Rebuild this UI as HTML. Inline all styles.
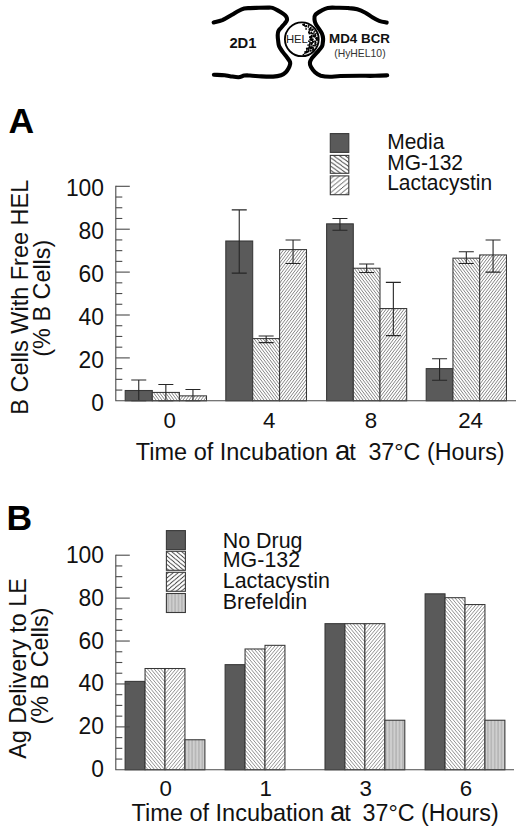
<!DOCTYPE html><html><head><meta charset="utf-8"><title>Figure</title>
<style>html,body{margin:0;padding:0;background:#fff;}body{width:520px;height:838px;overflow:hidden;}svg{display:block;font-family:"Liberation Sans",sans-serif;}text{font-family:"Liberation Sans",sans-serif;}</style>
</head><body>
<svg width="520" height="838" viewBox="0 0 520 838">
<defs>
<pattern id="hb" width="3" height="4" patternUnits="userSpaceOnUse"><rect width="3" height="4" fill="#fff"/><path d="M-6.000,-4 L0.000,4 M-3.000,-4 L3.000,4 M0.000,-4 L6.000,4 M3.000,-4 L9.000,4 M6.000,-4 L12.000,4" stroke="#5a5a5a" stroke-width="0.75" fill="none"/></pattern>
<pattern id="hf" width="3" height="4" patternUnits="userSpaceOnUse"><rect width="3" height="4" fill="#fff"/><path d="M-6.000,4 L0.000,-4 M-3.000,4 L3.000,-4 M0.000,4 L6.000,-4 M3.000,4 L9.000,-4 M6.000,4 L12.000,-4" stroke="#5a5a5a" stroke-width="0.75" fill="none"/></pattern>
<pattern id="hb2" width="10.0" height="4" patternUnits="userSpaceOnUse"><rect width="10.0" height="4" fill="#fff"/><path d="M-6.667,-4 L0.000,4 M-3.333,-4 L3.333,4 M0.000,-4 L6.667,4 M3.333,-4 L10.000,4 M6.667,-4 L13.333,4 M10.000,-4 L16.667,4 M13.333,-4 L20.000,4" stroke="#646464" stroke-width="0.72" fill="none"/></pattern>
<pattern id="hf2" width="10.0" height="4" patternUnits="userSpaceOnUse"><rect width="10.0" height="4" fill="#fff"/><path d="M-6.667,4 L0.000,-4 M-3.333,4 L3.333,-4 M0.000,4 L6.667,-4 M3.333,4 L10.000,-4 M6.667,4 L13.333,-4 M10.000,4 L16.667,-4 M13.333,4 L20.000,-4" stroke="#646464" stroke-width="0.72" fill="none"/></pattern>
<pattern id="lb" width="5.8" height="4.15" patternUnits="userSpaceOnUse"><rect width="5.8" height="4.15" fill="#fff"/><path d="M-11.600,-4.15 L0.000,4.15 M-5.800,-4.15 L5.800,4.15 M0.000,-4.15 L11.600,4.15 M5.800,-4.15 L17.400,4.15 M11.600,-4.15 L23.200,4.15" stroke="#3a3a3a" stroke-width="0.85" fill="none"/></pattern>
<pattern id="lf" width="5.7" height="4.7" patternUnits="userSpaceOnUse"><rect width="5.7" height="4.7" fill="#fff"/><path d="M-11.400,4.7 L0.000,-4.7 M-5.700,4.7 L5.700,-4.7 M0.000,4.7 L11.400,-4.7 M5.700,4.7 L17.100,-4.7 M11.400,4.7 L22.800,-4.7" stroke="#3a3a3a" stroke-width="0.85" fill="none"/></pattern>
<pattern id="lb2" width="5" height="4.2" patternUnits="userSpaceOnUse"><rect width="5" height="4.2" fill="#fff"/><path d="M-10.000,-4.2 L0.000,4.2 M-5.000,-4.2 L5.000,4.2 M0.000,-4.2 L10.000,4.2 M5.000,-4.2 L15.000,4.2 M10.000,-4.2 L20.000,4.2" stroke="#3a3a3a" stroke-width="0.85" fill="none"/></pattern>
<pattern id="lf2" width="5" height="4.2" patternUnits="userSpaceOnUse"><rect width="5" height="4.2" fill="#fff"/><path d="M-10.000,4.2 L0.000,-4.2 M-5.000,4.2 L5.000,-4.2 M0.000,4.2 L10.000,-4.2 M5.000,4.2 L15.000,-4.2 M10.000,4.2 L20.000,-4.2" stroke="#3a3a3a" stroke-width="0.85" fill="none"/></pattern>
<pattern id="bf" width="3.4" height="3" patternUnits="userSpaceOnUse"><rect width="3.4" height="3" fill="#cfcfcf"/><rect x="0.9" width="1.6" height="3" fill="#b6b6b6"/></pattern>
</defs>
<rect width="520" height="838" fill="#fff"/>
<g fill="none" stroke="#000" stroke-width="4.1" stroke-linecap="round" stroke-linejoin="round">
<path d="M213.7,22.5 C215.1,22.1 219.3,21.4 222.3,20.2 C225.3,18.9 228.8,16.5 231.5,15.0 C234.2,13.5 236.3,12.1 238.4,11.0 C240.5,9.9 242.3,9.0 244.2,8.5 C246.1,8.0 247.5,8.2 250.0,8.1 C252.5,8.0 256.0,7.9 259.0,7.8 C262.0,7.7 265.8,7.6 268.0,7.6 C270.2,7.6 270.9,7.4 272.5,7.9 C274.1,8.4 275.9,9.4 277.7,10.4 C279.5,11.4 282.0,12.9 283.4,13.9 C284.8,14.9 285.7,15.6 286.3,16.7 C286.9,17.8 287.2,19.0 286.9,20.2 C286.6,21.4 285.6,22.4 284.6,23.7 C283.6,24.9 282.1,26.5 281.1,27.7 C280.1,28.9 279.0,29.9 278.4,31.1 C277.8,32.4 277.7,33.6 277.7,35.2 C277.7,36.9 277.9,39.1 278.2,41.0 C278.4,42.9 278.4,44.5 279.2,46.4 C280.0,48.2 281.6,50.3 282.9,52.1 C284.2,53.9 285.8,55.8 286.9,57.3 C288.0,58.8 289.3,60.2 289.8,61.4 C290.3,62.5 290.3,63.1 290.1,64.2 C289.9,65.4 289.3,67.0 288.6,68.3 C287.9,69.6 287.1,71.1 285.8,72.3 C284.6,73.5 283.2,74.5 281.1,75.2 C279.0,75.9 276.4,76.4 273.1,76.6 C269.8,76.8 265.4,76.6 261.5,76.4 C257.6,76.2 252.9,75.6 250.0,75.5 C247.1,75.4 246.1,75.3 244.2,75.6 C242.3,75.9 240.9,77.2 238.5,77.3 C236.1,77.4 232.3,76.5 230.0,76.2 C227.7,75.9 227.3,75.5 224.6,75.2 C221.9,75.0 215.7,74.8 213.9,74.7"/>
<path d="M386.7,22.6 C385.4,22.3 381.6,21.7 379.2,20.8 C376.8,19.9 374.6,18.7 372.3,17.3 C370.0,16.0 367.9,14.0 365.4,12.7 C362.9,11.4 360.0,10.1 357.3,9.3 C354.6,8.5 352.2,8.3 349.2,8.1 C346.2,7.8 342.8,7.8 339.2,7.8 C335.6,7.8 330.8,7.4 327.7,7.9 C324.6,8.4 322.9,9.8 320.8,11.0 C318.7,12.2 316.2,13.6 315.2,15.0 C314.1,16.4 314.4,18.2 314.5,19.6 C314.6,21.1 314.9,22.1 315.6,23.7 C316.4,25.2 317.9,27.3 319.0,28.9 C320.1,30.5 321.2,31.9 321.9,33.5 C322.6,35.1 323.0,37.2 323.1,38.7 C323.2,40.2 323.0,41.2 322.8,42.5 C322.6,43.8 322.8,44.8 321.9,46.4 C321.0,48.0 318.9,50.2 317.3,52.1 C315.7,54.0 313.3,56.2 312.1,57.9 C310.9,59.6 310.1,61.0 309.9,62.5 C309.7,64.0 310.1,65.5 311.0,67.1 C311.9,68.7 313.4,70.8 315.0,72.3 C316.6,73.8 318.3,75.0 320.8,75.8 C323.3,76.5 326.7,76.8 330.0,76.8 C333.3,76.8 335.4,76.2 340.4,76.0 C345.4,75.8 354.2,75.8 360.0,75.8 C365.8,75.8 370.5,75.9 375.0,75.8 C379.5,75.7 385.2,75.4 387.2,75.3"/>
</g>
<circle cx="301.8" cy="39.3" r="16.9" fill="#fff" stroke="#000" stroke-width="1.8"/>
<g fill="#000"><circle cx="308.9" cy="41.2" r="0.85"/><circle cx="316.3" cy="38.2" r="0.85"/><circle cx="309.8" cy="42.0" r="0.85"/><circle cx="311.7" cy="48.5" r="0.85"/><circle cx="312.1" cy="42.9" r="0.85"/><circle cx="304.3" cy="24.1" r="0.85"/><circle cx="308.7" cy="50.1" r="0.85"/><circle cx="310.0" cy="43.7" r="0.85"/><circle cx="309.6" cy="44.4" r="0.85"/><circle cx="309.0" cy="32.3" r="0.85"/><circle cx="315.0" cy="45.8" r="0.85"/><circle cx="306.3" cy="25.8" r="0.85"/><circle cx="313.8" cy="36.2" r="0.85"/><circle cx="315.1" cy="35.7" r="0.85"/><circle cx="316.1" cy="38.4" r="0.85"/><circle cx="314.0" cy="32.1" r="0.85"/><circle cx="310.6" cy="37.6" r="0.85"/><circle cx="306.6" cy="51.4" r="0.85"/><circle cx="315.2" cy="43.8" r="0.85"/><circle cx="303.4" cy="54.7" r="0.85"/><circle cx="313.9" cy="33.9" r="0.85"/><circle cx="306.5" cy="25.9" r="0.85"/><circle cx="316.9" cy="38.8" r="0.85"/><circle cx="310.8" cy="50.8" r="0.85"/><circle cx="304.9" cy="53.4" r="0.85"/><circle cx="315.7" cy="42.6" r="0.85"/><circle cx="308.4" cy="26.9" r="0.85"/><circle cx="311.2" cy="32.8" r="0.85"/><circle cx="310.6" cy="50.4" r="0.85"/><circle cx="311.4" cy="32.4" r="0.85"/><circle cx="308.8" cy="25.5" r="0.85"/><circle cx="310.8" cy="27.7" r="0.85"/><circle cx="307.5" cy="51.6" r="0.85"/><circle cx="312.7" cy="42.0" r="0.85"/><circle cx="304.0" cy="24.7" r="0.85"/><circle cx="309.4" cy="46.5" r="0.85"/><circle cx="313.4" cy="45.7" r="0.85"/><circle cx="308.3" cy="48.4" r="0.85"/><circle cx="315.4" cy="41.6" r="0.85"/><circle cx="311.6" cy="35.6" r="0.85"/><circle cx="310.9" cy="42.7" r="0.85"/><circle cx="313.2" cy="35.8" r="0.85"/><circle cx="313.3" cy="41.8" r="0.85"/><circle cx="308.7" cy="49.9" r="0.85"/><circle cx="309.4" cy="30.8" r="0.85"/><circle cx="312.8" cy="39.2" r="0.85"/><circle cx="316.0" cy="44.3" r="0.85"/><circle cx="308.7" cy="51.6" r="0.85"/><circle cx="315.6" cy="35.7" r="0.85"/><circle cx="311.0" cy="33.5" r="0.85"/><circle cx="306.1" cy="28.9" r="0.85"/><circle cx="308.9" cy="32.2" r="0.85"/><circle cx="311.6" cy="39.1" r="0.85"/><circle cx="306.8" cy="49.9" r="0.85"/><circle cx="317.2" cy="37.8" r="0.85"/><circle cx="303.0" cy="24.6" r="0.85"/><circle cx="312.9" cy="41.5" r="0.85"/><circle cx="306.7" cy="48.5" r="0.85"/><circle cx="314.8" cy="31.1" r="0.85"/><circle cx="304.0" cy="25.1" r="0.85"/><circle cx="311.7" cy="37.6" r="0.85"/><circle cx="311.7" cy="44.2" r="0.85"/><circle cx="312.5" cy="29.9" r="0.85"/><circle cx="309.3" cy="29.2" r="0.85"/><circle cx="313.0" cy="29.2" r="0.85"/><circle cx="312.7" cy="39.9" r="0.85"/><circle cx="311.4" cy="47.3" r="0.85"/><circle cx="308.0" cy="48.5" r="0.85"/><circle cx="316.6" cy="38.2" r="0.85"/><circle cx="312.0" cy="30.0" r="0.85"/><circle cx="313.1" cy="49.3" r="0.85"/><circle cx="311.9" cy="46.1" r="0.85"/><circle cx="305.1" cy="51.9" r="0.85"/><circle cx="310.2" cy="48.4" r="0.85"/><circle cx="306.8" cy="52.2" r="0.85"/><circle cx="315.2" cy="34.5" r="0.85"/><circle cx="310.4" cy="47.7" r="0.85"/><circle cx="307.1" cy="48.3" r="0.85"/><circle cx="309.9" cy="46.3" r="0.85"/><circle cx="315.0" cy="45.2" r="0.85"/><circle cx="316.6" cy="39.1" r="0.85"/><circle cx="311.8" cy="40.0" r="0.85"/><circle cx="315.0" cy="41.2" r="0.85"/><circle cx="317.0" cy="40.1" r="0.85"/><circle cx="310.8" cy="29.9" r="0.85"/><circle cx="310.2" cy="39.4" r="0.85"/><circle cx="317.0" cy="39.8" r="0.85"/><circle cx="308.1" cy="48.8" r="0.85"/><circle cx="310.6" cy="39.0" r="0.85"/><circle cx="310.3" cy="36.6" r="0.85"/><circle cx="309.3" cy="33.6" r="0.85"/><circle cx="312.6" cy="33.7" r="0.85"/><circle cx="310.1" cy="37.3" r="0.85"/><circle cx="310.1" cy="28.6" r="0.85"/><circle cx="311.8" cy="40.2" r="0.85"/><circle cx="315.2" cy="42.8" r="0.85"/><circle cx="313.4" cy="49.0" r="0.85"/><circle cx="316.0" cy="33.5" r="0.85"/><circle cx="306.7" cy="52.6" r="0.85"/><circle cx="305.9" cy="26.6" r="0.85"/><circle cx="314.9" cy="36.8" r="0.85"/><circle cx="308.1" cy="45.1" r="0.85"/><circle cx="309.7" cy="47.4" r="0.85"/><circle cx="309.7" cy="45.1" r="0.85"/><circle cx="304.8" cy="25.8" r="0.85"/><circle cx="303.5" cy="24.8" r="0.85"/><circle cx="310.5" cy="39.8" r="0.85"/><circle cx="310.7" cy="28.2" r="0.85"/><circle cx="309.1" cy="47.6" r="0.85"/><circle cx="309.9" cy="37.1" r="0.85"/><circle cx="312.8" cy="50.1" r="0.85"/><circle cx="313.4" cy="36.3" r="0.85"/><circle cx="311.7" cy="36.3" r="0.85"/><circle cx="311.2" cy="39.4" r="0.85"/><circle cx="305.9" cy="52.2" r="0.85"/><circle cx="313.5" cy="48.0" r="0.85"/><circle cx="314.6" cy="36.3" r="0.85"/><circle cx="312.7" cy="47.7" r="0.85"/><circle cx="313.8" cy="36.3" r="0.85"/><circle cx="311.8" cy="43.2" r="0.85"/></g>
<text transform="translate(285.9,42.8)" font-size="11.3" fill="#222">HEL</text>
<text transform="translate(229.4,48.1) scale(1,1.04)" font-size="14.8" font-weight="bold" fill="#111">2D1</text>
<text transform="translate(329,43.3)" font-size="13.4" font-weight="bold" fill="#111">MD4 BCR</text>
<text transform="translate(334.2,56.7)" font-size="10.4" fill="#333">(HyHEL10)</text>
<text transform="translate(8.6,133.0) scale(1,0.985)" font-size="35.5" font-weight="bold" fill="#000">A</text>
<text transform="translate(6.6,530.2) scale(1,0.975)" font-size="35.5" font-weight="bold" fill="#000">B</text>
<text transform="translate(104,410.8) scale(1,1.08)" font-size="22.85" text-anchor="end" fill="#111">0</text><text transform="translate(104,367.9) scale(1,1.08)" font-size="22.85" text-anchor="end" fill="#111">20</text><text transform="translate(104,325.0) scale(1,1.08)" font-size="22.85" text-anchor="end" fill="#111">40</text><text transform="translate(104,282.1) scale(1,1.08)" font-size="22.85" text-anchor="end" fill="#111">60</text><text transform="translate(104,239.2) scale(1,1.08)" font-size="22.85" text-anchor="end" fill="#111">80</text><text transform="translate(104,196.3) scale(1,1.08)" font-size="22.85" text-anchor="end" fill="#111">100</text>
<rect x="125.20" y="390.50" width="27.10" height="10.30" fill="#5a5a5a" stroke="#363636" stroke-width="1.05"/>
<rect x="152.30" y="392.43" width="27.10" height="8.37" fill="url(#hb)" stroke="#363636" stroke-width="1.05"/>
<rect x="179.40" y="395.87" width="27.10" height="4.93" fill="url(#hf)" stroke="#363636" stroke-width="1.05"/>
<path d="M138.75,379.99 V400.80 M131.25,379.99 h15 M131.25,400.80 h15" stroke="#262626" stroke-width="1.1" fill="none"/>
<path d="M165.85,384.50 V400.80 M158.35,384.50 h15 M158.35,400.80 h15" stroke="#262626" stroke-width="1.1" fill="none"/>
<path d="M192.95,389.43 V400.80 M185.45,389.43 h15 M185.45,400.80 h15" stroke="#262626" stroke-width="1.1" fill="none"/>
<rect x="225.80" y="241.00" width="26.90" height="159.80" fill="#5a5a5a" stroke="#363636" stroke-width="1.05"/>
<rect x="252.70" y="338.60" width="26.90" height="62.20" fill="url(#hb)" stroke="#363636" stroke-width="1.05"/>
<rect x="279.60" y="249.58" width="26.90" height="151.22" fill="url(#hf)" stroke="#363636" stroke-width="1.05"/>
<path d="M239.25,209.90 V273.17 M231.75,209.90 h15 M231.75,273.17 h15" stroke="#262626" stroke-width="1.1" fill="none"/>
<path d="M266.15,336.02 V342.67 M258.65,336.02 h15 M258.65,342.67 h15" stroke="#262626" stroke-width="1.1" fill="none"/>
<path d="M293.05,239.93 V263.52 M285.55,239.93 h15 M285.55,263.52 h15" stroke="#262626" stroke-width="1.1" fill="none"/>
<rect x="326.60" y="223.84" width="26.70" height="176.96" fill="#5a5a5a" stroke="#363636" stroke-width="1.05"/>
<rect x="353.30" y="268.24" width="26.70" height="132.56" fill="url(#hb)" stroke="#363636" stroke-width="1.05"/>
<rect x="380.00" y="308.56" width="26.70" height="92.24" fill="url(#hf)" stroke="#363636" stroke-width="1.05"/>
<path d="M339.95,218.48 V230.27 M332.45,218.48 h15 M332.45,230.27 h15" stroke="#262626" stroke-width="1.1" fill="none"/>
<path d="M366.65,263.95 V272.53 M359.15,263.95 h15 M359.15,272.53 h15" stroke="#262626" stroke-width="1.1" fill="none"/>
<path d="M393.35,282.40 V335.59 M385.85,282.40 h15 M385.85,335.59 h15" stroke="#262626" stroke-width="1.1" fill="none"/>
<rect x="426.20" y="368.62" width="26.75" height="32.18" fill="#5a5a5a" stroke="#363636" stroke-width="1.05"/>
<rect x="452.95" y="258.16" width="26.75" height="142.64" fill="url(#hb)" stroke="#363636" stroke-width="1.05"/>
<rect x="479.70" y="254.94" width="26.75" height="145.86" fill="url(#hf)" stroke="#363636" stroke-width="1.05"/>
<path d="M439.57,358.76 V380.21 M432.07,358.76 h15 M432.07,380.21 h15" stroke="#262626" stroke-width="1.1" fill="none"/>
<path d="M466.32,251.72 V263.52 M458.82,251.72 h15 M458.82,263.52 h15" stroke="#262626" stroke-width="1.1" fill="none"/>
<path d="M493.07,239.93 V272.10 M485.57,239.93 h15 M485.57,272.10 h15" stroke="#262626" stroke-width="1.1" fill="none"/>
<g stroke="#4a4a4a" stroke-width="1.1" fill="none"><path d="M115.8,185.8 V400.8 H516"/><path d="M115.8,390.07 h6.5"/><path d="M115.8,379.35 h6.5"/><path d="M115.8,368.62 h6.5"/><path d="M115.8,357.90 h14"/><path d="M115.8,347.18 h6.5"/><path d="M115.8,336.45 h6.5"/><path d="M115.8,325.73 h6.5"/><path d="M115.8,315.00 h14"/><path d="M115.8,304.27 h6.5"/><path d="M115.8,293.55 h6.5"/><path d="M115.8,282.83 h6.5"/><path d="M115.8,272.10 h14"/><path d="M115.8,261.38 h6.5"/><path d="M115.8,250.65 h6.5"/><path d="M115.8,239.93 h6.5"/><path d="M115.8,229.20 h14"/><path d="M115.8,218.48 h6.5"/><path d="M115.8,207.75 h6.5"/><path d="M115.8,197.03 h6.5"/><path d="M115.8,186.30 h14"/></g>
<text transform="translate(169.8,427.8) scale(1,1.03)" font-size="22.3" text-anchor="middle" fill="#111">0</text>
<text transform="translate(269.2,427.8) scale(1,1.03)" font-size="22.3" text-anchor="middle" fill="#111">4</text>
<text transform="translate(371,427.8) scale(1,1.03)" font-size="22.3" text-anchor="middle" fill="#111">8</text>
<text transform="translate(470.6,427.8) scale(1,1.03)" font-size="22.3" text-anchor="middle" fill="#111">24</text>
<text transform="translate(135.8,459.6) scale(1,1.03)" font-size="23.5" fill="#111">Time of Incubation</text>
<text transform="translate(335.0,459.6)" font-size="27.5" fill="#111">a</text>
<text transform="translate(349.3,459.6) scale(1,0.98)" font-size="23.5" fill="#111">t</text>
<text transform="translate(368.4,459.6) scale(1,1.03)" font-size="23.3" fill="#111">37°C (Hours)</text>
<text transform="translate(27.9,297.2) rotate(-90) scale(1,1.05)" font-size="23.5" text-anchor="middle" fill="#111">B Cells With Free HEL</text>
<text transform="translate(50.3,298.2) rotate(-90) scale(1,1.05)" font-size="23.4" text-anchor="middle" fill="#111">(% B Cells)</text>
<rect x="330.3" y="133.60" width="18.5" height="18.8" fill="#5a5a5a" stroke="#3a3a3a" stroke-width="1.1"/>
<text transform="translate(387.2,148.8) scale(1,1.06)" font-size="21" fill="#111">Media</text>
<rect x="330.3" y="155.40" width="18.5" height="17.9" fill="url(#lb)" stroke="#3a3a3a" stroke-width="1.1"/>
<text transform="translate(387.2,170.0) scale(1,1.06)" font-size="21" fill="#111">MG-132</text>
<rect x="330.3" y="175.90" width="18.5" height="18.8" fill="url(#lf)" stroke="#3a3a3a" stroke-width="1.1"/>
<text transform="translate(387.2,189.8) scale(1,1.06)" font-size="21" fill="#111">Lactacystin</text>
<text transform="translate(104,777.3) scale(1,1.08)" font-size="22.85" text-anchor="end" fill="#111">0</text><text transform="translate(104,734.38) scale(1,1.08)" font-size="22.85" text-anchor="end" fill="#111">20</text><text transform="translate(104,691.46) scale(1,1.08)" font-size="22.85" text-anchor="end" fill="#111">40</text><text transform="translate(104,648.54) scale(1,1.08)" font-size="22.85" text-anchor="end" fill="#111">60</text><text transform="translate(104,605.62) scale(1,1.08)" font-size="22.85" text-anchor="end" fill="#111">80</text><text transform="translate(104,562.7) scale(1,1.08)" font-size="22.85" text-anchor="end" fill="#111">100</text>
<rect x="125.10" y="681.38" width="19.95" height="88.42" fill="#5a5a5a" stroke="#363636" stroke-width="1.05"/>
<rect x="145.05" y="668.51" width="19.95" height="101.29" fill="url(#hb2)" stroke="#363636" stroke-width="1.05"/>
<rect x="165.00" y="668.51" width="19.95" height="101.29" fill="url(#hf2)" stroke="#363636" stroke-width="1.05"/>
<rect x="184.95" y="739.76" width="19.95" height="30.04" fill="url(#bf)" stroke="#363636" stroke-width="1.05"/>
<rect x="225.10" y="664.65" width="19.95" height="105.15" fill="#5a5a5a" stroke="#363636" stroke-width="1.05"/>
<rect x="245.05" y="648.98" width="19.95" height="120.82" fill="url(#hb2)" stroke="#363636" stroke-width="1.05"/>
<rect x="265.00" y="645.33" width="19.95" height="124.47" fill="url(#hf2)" stroke="#363636" stroke-width="1.05"/>
<rect x="325.00" y="623.66" width="19.95" height="146.14" fill="#5a5a5a" stroke="#363636" stroke-width="1.05"/>
<rect x="344.95" y="623.66" width="19.95" height="146.14" fill="url(#hb2)" stroke="#363636" stroke-width="1.05"/>
<rect x="364.90" y="623.66" width="19.95" height="146.14" fill="url(#hf2)" stroke="#363636" stroke-width="1.05"/>
<rect x="384.85" y="720.23" width="19.95" height="49.57" fill="url(#bf)" stroke="#363636" stroke-width="1.05"/>
<rect x="425.10" y="593.83" width="19.95" height="175.97" fill="#5a5a5a" stroke="#363636" stroke-width="1.05"/>
<rect x="445.05" y="597.69" width="19.95" height="172.11" fill="url(#hb2)" stroke="#363636" stroke-width="1.05"/>
<rect x="465.00" y="604.56" width="19.95" height="165.24" fill="url(#hf2)" stroke="#363636" stroke-width="1.05"/>
<rect x="484.95" y="720.23" width="19.95" height="49.57" fill="url(#bf)" stroke="#363636" stroke-width="1.05"/>
<g stroke="#4a4a4a" stroke-width="1.1" fill="none"><path d="M115.8,554.7 V769.8 H514"/><path d="M115.8,759.07 h6.5"/><path d="M115.8,748.34 h6.5"/><path d="M115.8,737.61 h6.5"/><path d="M115.8,726.88 h14"/><path d="M115.8,716.15 h6.5"/><path d="M115.8,705.42 h6.5"/><path d="M115.8,694.69 h6.5"/><path d="M115.8,683.96 h14"/><path d="M115.8,673.23 h6.5"/><path d="M115.8,662.50 h6.5"/><path d="M115.8,651.77 h6.5"/><path d="M115.8,641.04 h14"/><path d="M115.8,630.31 h6.5"/><path d="M115.8,619.58 h6.5"/><path d="M115.8,608.85 h6.5"/><path d="M115.8,598.12 h14"/><path d="M115.8,587.39 h6.5"/><path d="M115.8,576.66 h6.5"/><path d="M115.8,565.93 h6.5"/><path d="M115.8,555.20 h14"/></g>
<text transform="translate(165.8,796.2) scale(1,1.03)" font-size="22.3" text-anchor="middle" fill="#111">0</text>
<text transform="translate(265.6,796.2) scale(1,1.03)" font-size="22.3" text-anchor="middle" fill="#111">1</text>
<text transform="translate(365.8,796.2) scale(1,1.03)" font-size="22.3" text-anchor="middle" fill="#111">3</text>
<text transform="translate(466,796.2) scale(1,1.03)" font-size="22.3" text-anchor="middle" fill="#111">6</text>
<text transform="translate(131.6,820.5) scale(1,1.03)" font-size="23.5" fill="#111">Time of Incubation</text>
<text transform="translate(330.0,820.5)" font-size="27.5" fill="#111">a</text>
<text transform="translate(344.3,820.5) scale(1,0.98)" font-size="23.5" fill="#111">t</text>
<text transform="translate(362.6,820.5) scale(1,1.03)" font-size="23.3" fill="#111">37°C (Hours)</text>
<text transform="translate(25.6,668.5) rotate(-90) scale(1,1.05)" font-size="23.4" text-anchor="middle" fill="#111">Ag Delivery to LE</text>
<text transform="translate(48.4,666) rotate(-90) scale(1,1.05)" font-size="23.4" text-anchor="middle" fill="#111">(% B Cells)</text>
<rect x="166.4" y="530.60" width="19.0" height="19.0" fill="#5a5a5a" stroke="#3a3a3a" stroke-width="1.1"/>
<text transform="translate(222.8,548.1) scale(1,1.06)" font-size="21.4" fill="#111">No Drug</text>
<rect x="166.4" y="551.30" width="19.0" height="19.0" fill="url(#lb2)" stroke="#3a3a3a" stroke-width="1.1"/>
<text transform="translate(222.8,567.2) scale(1,1.06)" font-size="21.4" fill="#111">MG-132</text>
<rect x="166.4" y="572.30" width="19.0" height="19.0" fill="url(#lf2)" stroke="#3a3a3a" stroke-width="1.1"/>
<text transform="translate(222.8,587.5) scale(1,1.06)" font-size="21.4" fill="#111">Lactacystin</text>
<rect x="166.4" y="593.50" width="19.0" height="19.0" fill="url(#bf)" stroke="#3a3a3a" stroke-width="1.1"/>
<text transform="translate(222.8,608.6) scale(1,1.06)" font-size="21.4" fill="#111">Brefeldin</text>
</svg></body></html>
